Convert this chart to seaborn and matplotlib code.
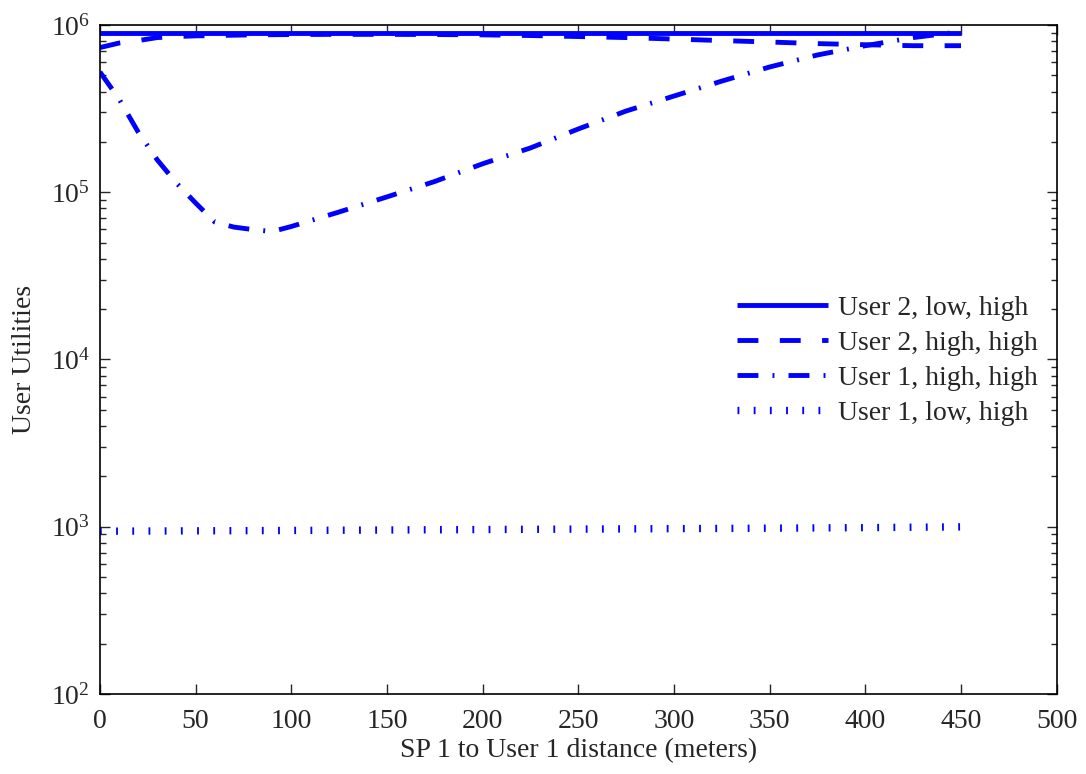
import numpy as np
import pandas as pd
import matplotlib
matplotlib.use('Agg')
import matplotlib.pyplot as plt
import seaborn as sns

# distance of SP 1 to user 1 (meters)
dist = [0, 10, 20, 30, 40, 50, 60, 70, 80, 90, 100, 125, 150, 175, 200,
        225, 250, 275, 300, 325, 350, 375, 400, 425, 450]

u2_low_high = [9.0e5] * len(dist)
u2_high_high = [7.33e5, 7.80e5, 8.07e5, 8.41e5, 8.53e5, 8.61e5, 8.65e5, 8.69e5,
                8.73e5, 8.75e5, 8.77e5, 8.79e5, 8.79e5, 8.77e5, 8.73e5, 8.65e5,
                8.53e5, 8.41e5, 8.24e5, 8.07e5, 7.91e5, 7.74e5, 7.62e5, 7.52e5, 7.52e5]
u1_high_high = [5.24e5, 3.61e5, 2.29e5, 1.56e5, 1.135e5, 8.63e4, 6.64e4, 6.19e4,
                5.98e4, 5.82e4, 6.24e4, 7.62e4, 9.38e4, 1.16e5, 1.48e5, 1.84e5,
                2.39e5, 3.06e5, 3.76e5, 4.62e5, 5.61e5, 6.62e5, 7.52e5, 8.41e5, 9.12e5]
u1_low_high = [940, 941, 942, 943, 944, 945, 946, 947, 948, 949, 950, 953, 956,
               959, 962, 965, 968, 971, 974, 977, 980, 984, 988, 993, 998]

labels = ['User 2, low, high', 'User 2, high, high', 'User 1, high, high', 'User 1, low, high']

sns.set_style('ticks')
plt.rcParams['font.family'] = ['Liberation Serif', 'DejaVu Serif']
plt.rcParams['mathtext.fontset'] = 'custom'
plt.rcParams['mathtext.rm'] = 'Liberation Serif'
plt.rcParams['mathtext.default'] = 'regular'

fig = plt.figure(figsize=(10.86, 7.74), dpi=100)
ax = fig.add_axes([0.092, 0.1034, 0.881, 0.8643])

styles = [('-', 3.5), ((0, (4.3, 4.4)), 3.5), ((0, (4.3, 2.9, 0.4, 2.9)), 3.5), ((0, (0.25, 1.95)), 5.3)]
series = [u2_low_high, u2_high_high, u1_high_high, u1_low_high]

for vals, lab, (ls, lw) in zip(series, labels, styles):
	sns.lineplot(x=dist, y=vals, ax=ax, color='#0000ff', linestyle=ls, lw=lw,
	             label=lab, solid_capstyle='butt', dash_capstyle='butt')

ax.set_yscale('log')
ax.set_xlim(0, 500)
ax.set_ylim(1e2, 1e6)
ax.set_xticks(np.arange(0, 501, 50))

ax.set_xlabel('SP 1 to User 1 distance (meters)', size=20, labelpad=3)
ax.set_ylabel('User Utilities', size=20, labelpad=10)
ax.tick_params(axis='both', which='major', labelsize=20, direction='in',
               top=True, right=True, length=7, width=1, pad=7)
ax.tick_params(axis='x', which='major', pad=11)
ax.tick_params(axis='y', which='minor', direction='in', left=True, right=True, length=4, width=1)
for sp in ax.spines.values():
	sp.set_visible(True)
	sp.set_linewidth(1.2)
	sp.set_color('black')

ax.legend(loc='upper left', bbox_to_anchor=(0.654, 0.612), frameon=False, fontsize=20,
          handlelength=3.3, handletextpad=0.36, labelspacing=0.345, borderaxespad=0)

plt.savefig('out.png', dpi=100)
